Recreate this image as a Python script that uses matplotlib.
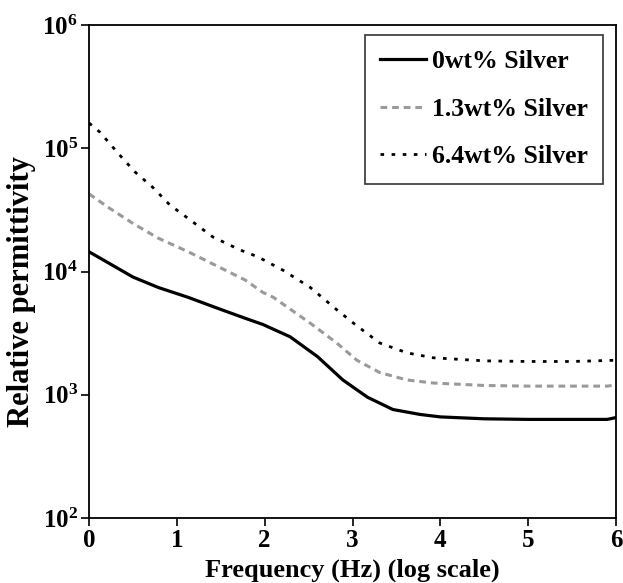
import numpy as np
import matplotlib
matplotlib.use("Agg")
import matplotlib.pyplot as plt
from matplotlib.ticker import FixedLocator, NullLocator, FuncFormatter

plt.rcParams['font.family'] = ['Liberation Serif', 'DejaVu Serif']
plt.rcParams['font.weight'] = 'bold'
plt.rcParams['mathtext.fontset'] = 'custom'
plt.rcParams['mathtext.rm'] = 'Liberation Serif:bold'
plt.rcParams['mathtext.bf'] = 'Liberation Serif:bold'

# 0 wt% silver
x_0 = [0, 0.22, 0.5, 0.79, 1.13, 1.47, 1.78, 1.98, 2.29, 2.6, 2.89, 3.17, 3.46, 3.77, 4.0, 4.5, 5.0, 5.5, 5.9, 6.0]
eps_0 = [14450, 11750, 9016, 7413, 6166, 5012, 4169, 3715, 2951, 2042, 1318, 955, 759, 692, 661, 638, 631, 631, 631, 653]

# 1.3 wt% silver
x_13 = [0, 0.22, 0.5, 0.79, 1.13, 1.47, 1.78, 1.98, 2.10, 2.52, 2.82, 3.05, 3.31, 3.62, 3.92, 4.5, 5.0, 5.5, 5.9, 6.0]
eps_13 = [42660, 33110, 24550, 18620, 14450, 10960, 8511, 6761, 6166, 3802, 2630, 1905, 1514, 1318, 1245, 1189, 1175, 1175, 1175, 1202]

# 6.4 wt% silver
x_64 = [0, 0.125, 0.33, 0.52, 0.73, 0.92, 1.13, 1.41, 1.72, 1.92, 2.21, 2.52, 2.82, 3.03, 3.31, 3.62, 3.92, 4.5, 5.0, 5.5, 6.0]
eps_64 = [160300, 134900, 91200, 64570, 47860, 34670, 26920, 19050, 14960, 13180, 10230, 7413, 4898, 3715, 2630, 2188, 1995, 1884, 1862, 1862, 1905]

labels = ['0wt% Silver', '1.3wt% Silver', '6.4wt% Silver']
x_ticks = [0, 1, 2, 3, 4, 5, 6]
y_ticks = [1e2, 1e3, 1e4, 1e5, 1e6]

fig = plt.figure(figsize=(6.23, 5.83), dpi=100)
ax = fig.add_axes([0.1429, 0.1115, 0.8459, 0.8456])

ax.plot(x_0, eps_0, color='black', linewidth=2.3, label=labels[0])
ax.plot(x_13, eps_13, color='#9a9a9a', linewidth=2.2, linestyle=(0, (2.2, 1.6)), label=labels[1])
ax.plot(x_64, eps_64, color='black', linewidth=2.0, linestyle=(0, (1.3, 2.7)), label=labels[2])

ax.set_yscale('log')
ax.set_xlim(0, 6)
ax.set_ylim(1e2, 1e6)
ax.xaxis.set_major_locator(FixedLocator(x_ticks))
ax.yaxis.set_major_locator(FixedLocator(y_ticks))
ax.yaxis.set_minor_locator(NullLocator())
ax.yaxis.set_major_formatter(FuncFormatter(lambda v, p: r'$\mathbf{10^{%d}}$' % round(np.log10(v))))
ax.tick_params(direction='out', length=6, width=1.2, labelsize=18, pad=2)

for s in ax.spines.values():
    s.set_linewidth(1.3)

ax.set_xlabel('Frequency (Hz) (log scale)', fontsize=19, fontweight='bold', labelpad=5)
ax.set_ylabel('Relative permittivity', fontsize=22, fontweight='bold')
ax.yaxis.set_label_coords(-0.10, 0.46)

leg = ax.legend(loc='upper right', fontsize=18.5, frameon=True, fancybox=False,
                edgecolor='black', handlelength=1.8, handletextpad=0.2,
                labelspacing=0.95, borderpad=0.6, borderaxespad=0,
                bbox_to_anchor=(0.975, 0.98))
leg.get_frame().set_linewidth(1.2)

fig.savefig('out.png', dpi=100)
